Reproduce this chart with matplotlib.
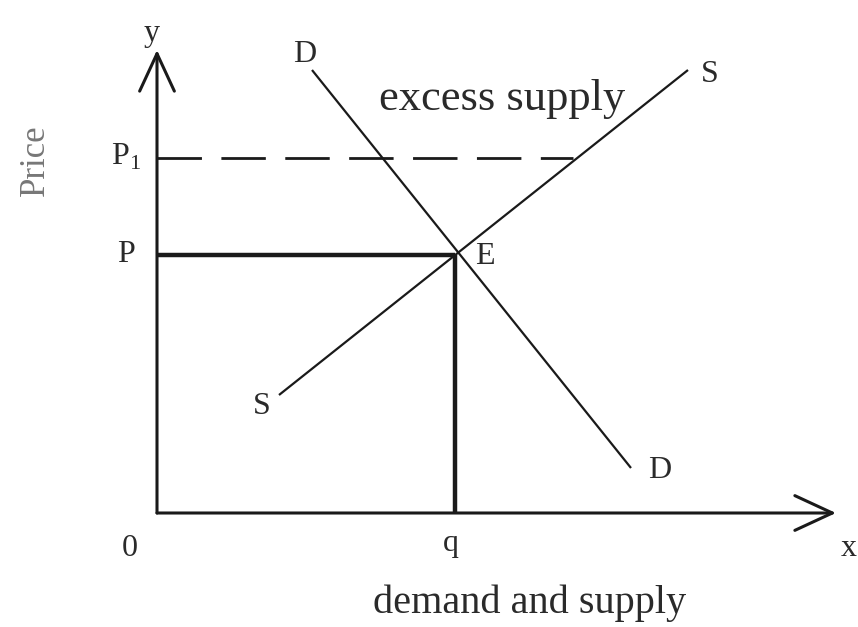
import matplotlib.pyplot as plt

# curve end points (quantity, price)
demand_q = [1.55, 4.74]
demand_p = [4.43, 0.45]
supply_q = [1.22, 5.31]
supply_p = [1.18, 4.43]

# equilibrium and the higher price
eq_q = 2.98
eq_p = 2.58
p1 = 3.55
p1_end = 4.16  # where the dashed line meets S

x_max = 6.79
y_max = 4.63

plt.rcParams['font.family'] = ['Liberation Serif', 'DejaVu Serif']

fig = plt.figure(figsize=(8.58, 6.27), dpi=100)
ax = fig.add_axes([0, 0, 1, 1])
ax.set_xlim(-1.57, 7.01)
ax.set_ylim(-1.14, 5.13)
ax.axis('off')

ink = '#1a1a1a'

# axes with open arrow heads
arrow = dict(arrowstyle='->,head_length=2.7,head_width=1.25', color=ink, lw=2.2,
             shrinkA=0, shrinkB=0, mutation_scale=10)
ax.annotate('', xy=(x_max, 0), xytext=(0, 0), arrowprops=arrow)
ax.annotate('', xy=(0, y_max), xytext=(0, 0), arrowprops=arrow)

# demand and supply
ax.plot(demand_q, demand_p, color=ink, lw=1.6, solid_capstyle='butt')
ax.plot(supply_q, supply_p, color=ink, lw=1.6, solid_capstyle='butt')

# equilibrium guides
ax.plot([0, eq_q], [eq_p, eq_p], color=ink, lw=3.2, solid_capstyle='butt')
ax.plot([eq_q, eq_q], [0, eq_p], color=ink, lw=3.2, solid_capstyle='butt')
ax.plot([0, p1_end], [p1, p1], color=ink, lw=2.0, linestyle=(0, (16, 7)))

# labels
lab = dict(color='#2a2a2a', fontsize=23, ha='center', va='center')
ax.text(-0.05, 4.80, 'y', **lab)
ax.text(-0.31, 3.56, r'P$_{\mathregular{1}}$', **lab)
ax.text(-0.31, 2.58, 'P', **lab)
ax.text(-0.27, -0.35, '0', **lab)
ax.text(eq_q - 0.04, -0.31, 'q', **lab)
ax.text(6.92, -0.35, 'x', **lab)
ax.text(1.48, 4.59, 'D', **lab)
ax.text(5.03, 0.43, 'D', **lab)
ax.text(1.05, 1.06, 'S', **lab)
ax.text(5.53, 4.39, 'S', **lab)
ax.text(3.28, 2.56, 'E', **lab)
ax.text(3.45, 4.14, 'excess supply', color='#2a2a2a', fontsize=32, ha='center', va='center')
ax.text(3.73, -0.9, 'demand and supply', color='#2a2a2a', fontsize=29, ha='center', va='center')
ax.text(-1.22, 3.53, 'Price', color='#777777', fontsize=25, rotation=90, ha='center', va='center')

fig.savefig('out.png', dpi=100)
